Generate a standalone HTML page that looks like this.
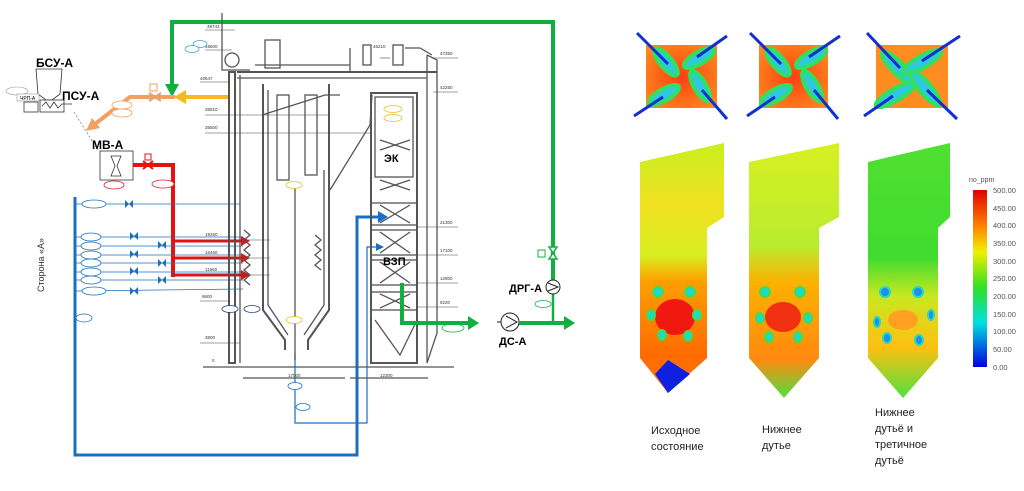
<!DOCTYPE html>
<html><head><meta charset="utf-8"><style>
body{margin:0;background:#fff;width:1024px;height:486px;overflow:hidden;font-family:"Liberation Sans","DejaVu Sans",sans-serif}
</style></head><body>
<svg width="1024" height="486" viewBox="0 0 1024 486" xmlns="http://www.w3.org/2000/svg" font-family="Liberation Sans, DejaVu Sans, sans-serif">
<defs>
<linearGradient id="f1" x1="0" y1="0" x2="0" y2="1">
<stop offset="0" stop-color="#c8f020"/><stop offset="0.25" stop-color="#f0e020"/><stop offset="0.45" stop-color="#d8ee20"/><stop offset="0.55" stop-color="#ffa000"/><stop offset="0.85" stop-color="#ff6a00"/><stop offset="1" stop-color="#ff7a10"/></linearGradient>
<linearGradient id="f2" x1="0" y1="0" x2="0" y2="1">
<stop offset="0" stop-color="#d8f020"/><stop offset="0.4" stop-color="#b8ec30"/><stop offset="0.55" stop-color="#ffb000"/><stop offset="0.85" stop-color="#ff8a10"/><stop offset="1" stop-color="#50e040"/></linearGradient>
<linearGradient id="f3" x1="0" y1="0" x2="0" y2="1">
<stop offset="0" stop-color="#50e030"/><stop offset="0.45" stop-color="#40dc30"/><stop offset="0.6" stop-color="#c8e820"/><stop offset="0.8" stop-color="#ffc010"/><stop offset="1" stop-color="#50e040"/></linearGradient>
<linearGradient id="cb" x1="0" y1="0" x2="0" y2="1">
<stop offset="0" stop-color="#e00000"/><stop offset="0.2" stop-color="#ff8000"/><stop offset="0.35" stop-color="#f0f000"/><stop offset="0.55" stop-color="#30e020"/><stop offset="0.75" stop-color="#00e0e0"/><stop offset="1" stop-color="#0000e0"/></linearGradient>
<radialGradient id="sq" cx="0.5" cy="0.5" r="0.7"><stop offset="0" stop-color="#ff4010"/><stop offset="1" stop-color="#ff9020"/></radialGradient>
</defs>

<!-- green top loop -->
<polyline points="172,88 172,22 553,22 553,280" fill="none" stroke="#10b040" stroke-width="4"/>
<path d="M165,84 L179,84 L172,97 Z" fill="#10b040"/>
<line x1="229" y1="97" x2="184" y2="97" stroke="#f8b820" stroke-width="4"/>
<path d="M186,90 L174,97 L186,104 Z" fill="#f8b820"/>
<polyline points="175,97 130,97 95,124" fill="none" stroke="#f0a060" stroke-width="4"/>
<path d="M86,131 L92,118 L100,128 Z" fill="#f0a060"/>
<path d="M149,93 L161,101 M149,101 L161,93" stroke="#f0a060" stroke-width="2"/>
<rect x="150" y="84" width="7" height="7" fill="none" stroke="#f0a060"/>
<ellipse cx="122" cy="105" rx="10" ry="4" fill="#fff" stroke="#f0a060" stroke-width="0.8"/>
<ellipse cx="122" cy="113" rx="10" ry="4" fill="#fff" stroke="#f0a060" stroke-width="0.8"/>
<text x="36" y="67" font-size="12" font-weight="bold">БСУ-А</text>
<path d="M36,69 L62,69 L60,94 L52,100 L46,100 L38,94 Z" fill="#fff" stroke="#333" stroke-width="0.8"/>
<rect x="40" y="100" width="24" height="12" fill="#fff" stroke="#333" stroke-width="0.8"/>
<rect x="24" y="102" width="14" height="10" fill="#fff" stroke="#333" stroke-width="0.8"/>
<path d="M42,106 l4,-4 4,6 4,-6 4,6 4,-4 10,0" fill="none" stroke="#333" stroke-width="0.8"/>
<text x="62" y="100" font-size="12" font-weight="bold">ПСУ-А</text>
<ellipse cx="17" cy="91" rx="11" ry="4" fill="#fff" stroke="#999" stroke-width="0.6"/>
<rect x="17" y="94" width="22" height="7" fill="#fff" stroke="#999" stroke-width="0.6"/>
<text x="20" y="100" font-size="5">ЧРП-А</text>
<line x1="74" y1="112" x2="98" y2="150" stroke="#999" stroke-dasharray="2,2"/>
<text x="92" y="149" font-size="12" font-weight="bold">МВ-А</text>
<rect x="100" y="151" width="33" height="29" fill="#fff" stroke="#333" stroke-width="0.8"/>
<path d="M111,156 L121,156 L117,166 L121,176 L111,176 L115,166 Z" fill="none" stroke="#333" stroke-width="0.8"/>
<ellipse cx="114" cy="185" rx="10" ry="4" fill="#fff" stroke="#e02020" stroke-width="0.8"/>
<polyline points="133,165 173,165 173,277" fill="none" stroke="#e81010" stroke-width="4"/>
<path d="M143,161 L153,169 M143,169 L153,161" stroke="#e81010" stroke-width="2"/>
<rect x="145" y="154" width="6" height="6" fill="none" stroke="#e81010"/>
<ellipse cx="163" cy="184" rx="11" ry="4" fill="#fff" stroke="#e02020" stroke-width="0.8"/>
<g stroke="#e81010" stroke-width="3"><line x1="173" y1="241" x2="243" y2="241"/><line x1="173" y1="258" x2="243" y2="258"/><line x1="173" y1="275" x2="243" y2="275"/></g>
<g fill="#e81010"><path d="M241,236 L250,241 L241,246Z"/><path d="M241,253 L250,258 L241,263Z"/><path d="M241,270 L250,275 L241,280Z"/></g>

<polyline points="75,197 75,455 357,455 357,217 380,217" fill="none" stroke="#1a6fc0" stroke-width="3"/>
<path d="M378,211 L388,217 L378,223Z" fill="#1a6fc0"/>
<polyline points="295,353 295,423 367,423 367,247 378,247" fill="none" stroke="#1a6fc0" stroke-width="1.2"/>
<path d="M376,243 L384,247 L376,251Z" fill="#1a6fc0"/>
<g stroke="#1a6fc0" stroke-width="0.8" fill="none">
<line x1="75" y1="204" x2="240" y2="204"/>
<line x1="75" y1="237" x2="243" y2="237"/>
<line x1="75" y1="246" x2="243" y2="246"/>
<line x1="75" y1="255" x2="243" y2="255"/>
<line x1="75" y1="263" x2="243" y2="263"/>
<line x1="75" y1="272" x2="243" y2="272"/>
<line x1="75" y1="280" x2="243" y2="280"/>
<line x1="75" y1="291" x2="243" y2="289"/>
<ellipse cx="94" cy="204" rx="12" ry="4" fill="#fff"/>
<ellipse cx="91" cy="237" rx="10" ry="4" fill="#fff"/><ellipse cx="91" cy="246" rx="10" ry="4" fill="#fff"/>
<ellipse cx="91" cy="255" rx="10" ry="4" fill="#fff"/><ellipse cx="91" cy="263" rx="10" ry="4" fill="#fff"/>
<ellipse cx="91" cy="272" rx="10" ry="4" fill="#fff"/><ellipse cx="91" cy="280" rx="10" ry="4" fill="#fff"/>
<ellipse cx="94" cy="291" rx="12" ry="4" fill="#fff"/>
<ellipse cx="84" cy="318" rx="8" ry="4" fill="#fff"/>
</g>
<g fill="#1a6fc0">
<path d="M125,200 l8,8 0,-8 -8,8z"/><path d="M130,232 l8,8 0,-8 -8,8z"/><path d="M158,241 l8,8 0,-8 -8,8z"/>
<path d="M130,250 l8,8 0,-8 -8,8z"/><path d="M158,259 l8,8 0,-8 -8,8z"/><path d="M130,267 l8,8 0,-8 -8,8z"/>
<path d="M158,276 l8,8 0,-8 -8,8z"/><path d="M130,287 l8,8 0,-8 -8,8z"/>
</g>
<text x="44" y="292" font-size="9" transform="rotate(-90 44 292)" fill="#333">Сторона «А»</text>

<!-- boiler drawing -->
<g stroke="#555" stroke-width="1.3" fill="none">
<rect x="229" y="72" width="6" height="291" stroke-width="2"/>
<line x1="240" y1="75" x2="240" y2="363"/>
<line x1="237" y1="72" x2="437" y2="72" stroke-width="2"/><line x1="237" y1="78" x2="427" y2="78"/>
<polyline points="263,84 263,310 285,340 285,350" stroke-width="2"/><polyline points="329,84 329,310 308,340 308,350" stroke-width="2"/>
<polyline points="268,90 268,305 288,335"/><polyline points="324,170 324,305 304,335"/>
<polyline points="262,115 325,95 340,95"/>
<polyline points="330,190 370,125 372,95"/>
<rect x="371" y="93" width="46" height="270" stroke-width="2"/><rect x="375" y="97" width="38" height="80"/>
<polyline points="427,55 437,60 437,333 427,363"/><line x1="427" y1="55" x2="427" y2="363"/>
<polyline points="375,320 400,355 417,320"/>
<line x1="203" y1="367" x2="454" y2="367"/>
<line x1="243" y1="378" x2="345" y2="378"/><line x1="350" y1="378" x2="428" y2="378"/>
<rect x="277" y="95" width="12" height="85"/><rect x="305" y="95" width="12" height="80"/>
<line x1="295" y1="185" x2="295" y2="360"/>
<polyline points="222,13 222,70 250,70"/><circle cx="232" cy="60" r="7"/>
<rect x="265" y="40" width="15" height="28"/><line x1="255" y1="65" x2="350" y2="65"/>
<line x1="350" y1="48" x2="350" y2="72"/><rect x="363" y="45" width="8" height="20"/><rect x="393" y="45" width="10" height="20"/>
<polyline points="405,48 420,48 432,55"/>
<rect x="371" y="203" width="46" height="22"/><rect x="371" y="230" width="46" height="25"/>
<rect x="371" y="260" width="46" height="25"/><rect x="371" y="292" width="46" height="18"/>
<path d="M380,205 l30,18 m0,-18 l-30,18 M380,232 l30,21 m0,-21 l-30,21 M380,262 l30,21 m0,-21 l-30,21 M380,294 l30,14 m0,-14 l-30,14 M380,180 l30,10 m0,-10 l-30,10 M380,140 l30,10 m0,-10 l-30,10"/>
<path d="M244,230 l6,5 -6,5 6,5 -6,5 6,5 -6,5 6,5 -6,5 6,5 -6,5 6,5 M315,235 l6,5 -6,5 6,5 -6,5 6,5 -6,5 6,5"/>
</g>
<g stroke="#444" stroke-width="0.6">
<line x1="205" y1="30" x2="235" y2="30"/><line x1="205" y1="50" x2="232" y2="50"/><line x1="200" y1="82" x2="230" y2="82"/>
<line x1="205" y1="115" x2="330" y2="115"/><line x1="205" y1="133" x2="370" y2="133"/><line x1="380" y1="58" x2="390" y2="58"/>
<line x1="433" y1="58" x2="458" y2="58"/><line x1="433" y1="92" x2="458" y2="92"/>
<line x1="200" y1="240" x2="270" y2="240"/><line x1="200" y1="258" x2="270" y2="258"/><line x1="200" y1="275" x2="270" y2="275"/>
<line x1="200" y1="301" x2="230" y2="301"/><line x1="200" y1="343" x2="240" y2="343"/>
<line x1="417" y1="227" x2="458" y2="227"/><line x1="417" y1="255" x2="458" y2="255"/><line x1="417" y1="283" x2="458" y2="283"/><line x1="417" y1="307" x2="458" y2="307"/>
</g>
<g font-size="4.5" fill="#333">
<text x="207" y="28">39743</text><text x="205" y="48">48600</text><text x="200" y="80">40647</text><text x="205" y="111">38510</text><text x="205" y="129">35500</text>
<text x="373" y="48">46210</text><text x="440" y="55">47350</text><text x="440" y="89">42250</text>
<text x="205" y="236">19260</text><text x="205" y="254">16460</text><text x="205" y="271">11660</text><text x="202" y="298">9600</text><text x="205" y="339">3800</text><text x="212" y="362">0</text>
<text x="440" y="224">21300</text><text x="440" y="252">17100</text><text x="440" y="280">12900</text><text x="440" y="304">9220</text>
<text x="288" y="377">17000</text><text x="380" y="377">12300</text>
</g>
<g fill="#fff" stroke-width="0.8">
<ellipse cx="200" cy="44" rx="7" ry="3.5" stroke="#40a0d0"/><ellipse cx="192" cy="49" rx="7" ry="3.5" stroke="#40a0d0"/>
<ellipse cx="393" cy="109" rx="9" ry="3.5" stroke="#e8c020"/><ellipse cx="393" cy="118" rx="9" ry="3.5" stroke="#e8c020"/>
<ellipse cx="294" cy="185" rx="8" ry="3.5" stroke="#e8c020"/><ellipse cx="294" cy="320" rx="8" ry="3.5" stroke="#e8c020"/>
<ellipse cx="230" cy="309" rx="8" ry="3.5" stroke="#204080"/><ellipse cx="252" cy="309" rx="8" ry="3.5" stroke="#204080"/>
<ellipse cx="295" cy="386" rx="7" ry="3.5" stroke="#1a6fc0"/><ellipse cx="303" cy="407" rx="7" ry="3.5" stroke="#1a6fc0"/>
<ellipse cx="453" cy="328" rx="11" ry="4" stroke="#10b040"/><ellipse cx="543" cy="304" rx="8" ry="3.5" stroke="#10b040"/>
</g>
<text x="384" y="162" font-size="11" font-weight="bold">ЭК</text>
<text x="383" y="265" font-size="11" font-weight="bold">ВЗП</text>
<polyline points="402,283 402,323 470,323" fill="none" stroke="#10b040" stroke-width="4"/>
<path d="M468,316 L479,323 L468,330Z" fill="#10b040"/>
<circle cx="510" cy="322" r="9" fill="#fff" stroke="#222"/><path d="M506,316 L517,322 L506,328" fill="none" stroke="#222"/>
<line x1="497" y1="322" x2="501" y2="322" stroke="#222"/>
<polyline points="519,323 566,323" fill="none" stroke="#10b040" stroke-width="4"/>
<path d="M564,316 L575,323 L564,330Z" fill="#10b040"/>
<line x1="553" y1="280" x2="553" y2="323" stroke="#10b040" stroke-width="2.5"/>
<circle cx="553" cy="287" r="7" fill="#fff" stroke="#222"/><path d="M548,283 L558,287 L548,291" fill="none" stroke="#222"/>
<path d="M549,247 L557,259 L549,259 L557,247 Z" fill="#fff" stroke="#10b040" stroke-width="1.5"/>
<rect x="538" y="250" width="7" height="7" fill="none" stroke="#10b040"/>
<text x="509" y="292" font-size="11" font-weight="bold">ДРГ-А</text>
<text x="499" y="345" font-size="11" font-weight="bold">ДС-А</text>

<!-- squares -->
<g>
<rect x="646" y="45" width="71" height="63" fill="url(#sq)"/>
<rect x="759" y="45" width="69" height="63" fill="url(#sq)"/>
<rect x="876" y="45" width="72" height="63" fill="#ff8c20"/>
<g fill="#30c8e0" stroke="#30e060" stroke-width="4">
<ellipse cx="666" cy="62" rx="17" ry="6" transform="rotate(50 666 62)"/><ellipse cx="699" cy="58" rx="17" ry="6" transform="rotate(-30 699 58)"/>
<ellipse cx="700" cy="86" rx="17" ry="6" transform="rotate(60 700 86)"/><ellipse cx="664" cy="95" rx="17" ry="6" transform="rotate(-30 664 95)"/>
<ellipse cx="778" cy="62" rx="17" ry="6" transform="rotate(50 778 62)"/><ellipse cx="811" cy="58" rx="17" ry="6" transform="rotate(-30 811 58)"/>
<ellipse cx="812" cy="86" rx="17" ry="6" transform="rotate(60 812 86)"/><ellipse cx="776" cy="95" rx="17" ry="6" transform="rotate(-30 776 95)"/>
<ellipse cx="898" cy="68" rx="22" ry="6" transform="rotate(45 898 68)"/><ellipse cx="922" cy="62" rx="22" ry="6" transform="rotate(-30 922 62)"/>
<ellipse cx="925" cy="88" rx="22" ry="6" transform="rotate(50 925 88)"/><ellipse cx="895" cy="95" rx="22" ry="6" transform="rotate(-30 895 95)"/>
</g>
<g stroke="#1030d0" stroke-width="3">
<line x1="637" y1="33" x2="668" y2="64"/><line x1="727" y1="36" x2="697" y2="57"/><line x1="727" y1="119" x2="702" y2="90"/><line x1="634" y1="116" x2="663" y2="97"/>
<line x1="750" y1="33" x2="781" y2="64"/><line x1="840" y1="36" x2="809" y2="57"/><line x1="838" y1="119" x2="814" y2="90"/><line x1="747" y1="116" x2="775" y2="97"/>
<line x1="867" y1="33" x2="900" y2="68"/><line x1="960" y1="36" x2="922" y2="61"/><line x1="957" y1="119" x2="927" y2="90"/><line x1="864" y1="116" x2="893" y2="96"/>
</g>
</g>
<!-- furnaces -->
<path d="M640,162 L724,143 L724,217 L707,228 L707,358 L668,393 L640,358 Z" fill="url(#f1)"/>
<path d="M655,374 L668,393 L690,374 L668,360 Z" fill="#1020e0"/>
<ellipse cx="675" cy="317" rx="20" ry="18" fill="#f01810"/>
<g fill="#20d8d0" stroke="#40e040" stroke-width="2">
<ellipse cx="658" cy="292" rx="5" ry="5"/><ellipse cx="690" cy="292" rx="5" ry="5"/><ellipse cx="651" cy="315" rx="4" ry="5"/><ellipse cx="697" cy="315" rx="4" ry="5"/><ellipse cx="662" cy="335" rx="4" ry="5"/><ellipse cx="688" cy="336" rx="4" ry="5"/>
</g>
<path d="M749,162 L839,143 L839,217 L819,228 L819,358 L784,398 L749,358 Z" fill="url(#f2)"/>
<ellipse cx="783" cy="317" rx="18" ry="15" fill="#f03010"/>
<g fill="#20d8d0" stroke="#40e040" stroke-width="2">
<ellipse cx="765" cy="292" rx="5" ry="5"/><ellipse cx="800" cy="292" rx="5" ry="5"/><ellipse cx="760" cy="318" rx="4" ry="5"/><ellipse cx="808" cy="318" rx="4" ry="5"/><ellipse cx="769" cy="337" rx="4" ry="5"/><ellipse cx="798" cy="337" rx="4" ry="5"/>
</g>
<path d="M868,162 L950,143 L950,217 L938,228 L938,358 L903,398 L868,358 Z" fill="url(#f3)"/>
<ellipse cx="903" cy="320" rx="15" ry="10" fill="#ffa020"/>
<g fill="#2090e0" stroke="#20d8d0" stroke-width="2">
<ellipse cx="885" cy="292" rx="5" ry="5"/><ellipse cx="918" cy="292" rx="5" ry="5"/><ellipse cx="877" cy="322" rx="3" ry="5"/><ellipse cx="931" cy="315" rx="3" ry="5"/><ellipse cx="887" cy="338" rx="4" ry="5"/><ellipse cx="919" cy="340" rx="4" ry="5"/>
</g>
<rect x="973" y="190" width="14" height="177" fill="url(#cb)"/>
<text x="969" y="182" font-size="7" fill="#555">no_ppm</text>
<g font-size="7.5" fill="#555">
<text x="993" y="193">500.00</text><text x="993" y="211">450.00</text><text x="993" y="228">400.00</text><text x="993" y="246">350.00</text><text x="993" y="264">300.00</text><text x="993" y="281">250.00</text><text x="993" y="299">200.00</text><text x="993" y="317">150.00</text><text x="993" y="334">100.00</text><text x="993" y="352">50.00</text><text x="993" y="370">0.00</text>
</g>
<g font-size="11" fill="#222">
<text x="651" y="434">Исходное</text><text x="651" y="450">состояние</text>
<text x="762" y="433">Нижнее</text><text x="762" y="449">дутье</text>
<text x="875" y="416">Нижнее</text><text x="875" y="432">дутьё и</text><text x="875" y="448">третичное</text><text x="875" y="464">дутьё</text>
</g>
</svg>
</body></html>
